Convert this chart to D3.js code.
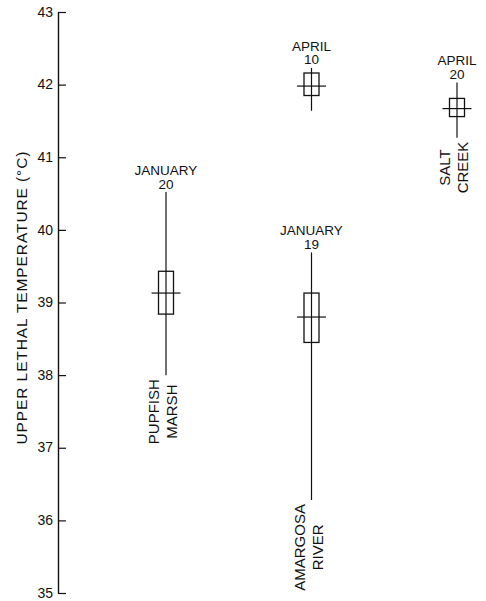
<!DOCTYPE html>
<html>
<head>
<meta charset="utf-8">
<script src="https://cdn.jsdelivr.net/npm/d3@7"></script>
<style>
  body { margin: 0; background: #fff; }
  svg { display: block; font-family: "Liberation Sans", Arial, sans-serif; }
</style>
</head>
<body>
<div id="chart"></div>
<script>
// samples: site, date and upper lethal temperature stats (°C)
const sites = ["PUPFISH MARSH", "AMARGOSA RIVER", "SALT CREEK"];
const sampleSite = ["PUPFISH MARSH", "AMARGOSA RIVER", "AMARGOSA RIVER", "SALT CREEK"];
const sampleMonth = ["JANUARY", "JANUARY", "APRIL", "APRIL"];
const sampleDay = ["20", "19", "10", "20"];
const meanTemp = [39.13, 38.80, 41.98, 41.67];
const boxLow = [38.84, 38.45, 41.85, 41.56];
const boxHigh = [39.43, 39.13, 42.16, 41.81];
const rangeLow = [38.00, 36.28, 41.64, 41.27];
const rangeHigh = [40.52, 39.69, 42.23, 42.03];
// which sample carries the site name underneath
const siteLabel = [["PUPFISH", "MARSH"], ["AMARGOSA", "RIVER"], null, ["SALT", "CREEK"]];
const yTicks = [35, 36, 37, 38, 39, 40, 41, 42, 43];
const yLabel = "UPPER  LETHAL  TEMPERATURE (°C)";

const width = 486, height = 601;
const axisX = 58;

const svg = d3.select("#chart").append("svg")
    .attr("width", width)
    .attr("height", height);

const y = d3.scaleLinear().domain([35, 43]).range([593, 12]);
const x = d3.scalePoint().domain(sites).range([166, 457]);

// axis: ticks point into the plot, labels on the left
const axis = svg.append("g")
    .attr("transform", `translate(${axisX},0)`)
    .call(d3.axisLeft(y).tickValues(yTicks).tickFormat(d3.format("d"))
        .tickSizeInner(-8).tickSizeOuter(0).tickPadding(5));
axis.select(".domain").attr("stroke", "#111").attr("stroke-width", 1.4);
axis.selectAll(".tick line").attr("stroke", "#111").attr("stroke-width", 1.2);
axis.selectAll(".tick text")
    .attr("fill", "#111")
    .attr("font-size", 14)
    .attr("dy", "0.3em")
    .attr("font-family", "Liberation Sans, Arial, sans-serif");

svg.append("text")
    .attr("transform", `translate(27,298) rotate(-90)`)
    .attr("text-anchor", "middle")
    .attr("font-size", 15.5)
    .attr("fill", "#111")
    .attr("textLength", 293)
    .attr("lengthAdjust", "spacing")
    .text(yLabel);

const data = sampleSite.map((s, i) => ({
    site: s, month: sampleMonth[i], day: sampleDay[i],
    mean: meanTemp[i], lo: boxLow[i], hi: boxHigh[i],
    min: rangeLow[i], max: rangeHigh[i], name: siteLabel[i]
}));

const boxW = 15, meanW = 29;
const g = svg.selectAll(".sample").data(data).join("g")
    .attr("class", "sample")
    .attr("stroke", "#111")
    .attr("fill", "none");

g.append("line")
    .attr("x1", d => x(d.site)).attr("x2", d => x(d.site))
    .attr("y1", d => y(d.max)).attr("y2", d => y(d.min))
    .attr("stroke-width", 1.2);

g.append("rect")
    .attr("x", d => x(d.site) - boxW / 2)
    .attr("y", d => y(d.hi))
    .attr("width", boxW)
    .attr("height", d => y(d.lo) - y(d.hi))
    .attr("stroke-width", 1.3);

g.append("line")
    .attr("x1", d => x(d.site) - meanW / 2).attr("x2", d => x(d.site) + meanW / 2)
    .attr("y1", d => y(d.mean)).attr("y2", d => y(d.mean))
    .attr("stroke-width", 1.2);

// date above each range
g.append("text")
    .attr("x", d => x(d.site))
    .attr("y", d => y(d.max) - 17)
    .attr("text-anchor", "middle")
    .attr("font-size", 13.5)
    .attr("fill", "#111").attr("stroke", "none")
    .text(d => d.month);
g.append("text")
    .attr("x", d => x(d.site))
    .attr("y", d => y(d.max) - 3.5)
    .attr("text-anchor", "middle")
    .attr("font-size", 13.5)
    .attr("fill", "#111").attr("stroke", "none")
    .text(d => d.day);

// site names, rotated, under the lowest sample of each site
g.filter(d => d.name).each(function(d) {
    const sel = d3.select(this);
    const lines = d.name.map(t => sel.append("text")
        .attr("font-size", 15)
        .attr("fill", "#111").attr("stroke", "none")
        .attr("text-anchor", "middle")
        .text(t));
    const longest = d3.max(lines, t => t.node().getComputedTextLength());
    const cy = y(d.min) + 4 + longest / 2;
    lines.forEach((t, j) => {
        t.attr("transform", `translate(${x(d.site) - 7 + j * 18},${cy}) rotate(-90)`);
    });
});
</script>
</body>
</html>
